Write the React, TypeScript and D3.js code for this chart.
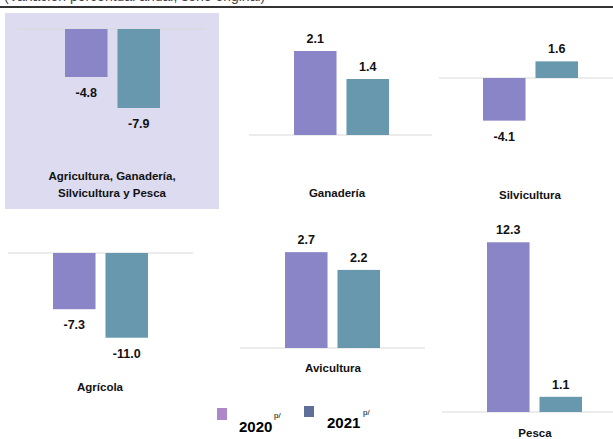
import React from "react";
import * as d3 from "d3";

const categories = [
  ["Agricultura, Ganadería,", "Silvicultura y Pesca"],
  ["Ganadería"],
  ["Silvicultura"],
  ["Agrícola"],
  ["Avicultura"],
  ["Pesca"],
];
const values2020 = [-4.8, 2.1, -4.1, -7.3, 2.7, 12.3];
const values2021 = [-7.9, 1.4, 1.6, -11.0, 2.2, 1.1];
const seriesNames = ["2020", "2021"];
const subtitle = "(Variación porcentual anual, serie original)";

// layout per panel (positions only)
const panelLayout = [
  { lineX0: 18, lineX1: 205, baseY: 29, unit: 10, barX: 65, titleX: 112, titleY: 197 },
  { lineX0: 249, lineX1: 432, baseY: 135, unit: 40, barX: 294, titleX: 337, titleY: 197 },
  { lineX0: 439, lineX1: 613, baseY: 78, unit: 10.4, barX: 483, titleX: 530, titleY: 199 },
  { lineX0: 8, lineX1: 193, baseY: 253, unit: 7.7, barX: 53, titleX: 100, titleY: 391 },
  { lineX0: 240, lineX1: 425, baseY: 348, unit: 35.5, barX: 285, titleX: 333, titleY: 372 },
  { lineX0: 442, lineX1: 613, baseY: 412, unit: 13.8, barX: 487, titleX: 535, titleY: 437 },
];

const barColors = ["#8985c6", "#6898ae"];
const legendColors = ["#ae87c8", "#5e7099"];
const font = "'Liberation Sans', Arial, sans-serif";

export default function App() {
  return (
    <svg
      width={613}
      height={439}
      style={{ position: "absolute", left: 0, top: 0, background: "#fff" }}
      fontFamily={font}
    >
      <text x={4} y={0.5} fontSize={14} fill="#444">{subtitle}</text>
      <line x1={0} x2={613} y1={7} y2={7} stroke="#333" strokeWidth={2} />
      <rect x={5} y={13} width={214} height={196} fill="#dddbef" />
      {categories.map((cat, i) => {
        const L = panelLayout[i];
        const y = d3.scaleLinear().domain([0, 1]).range([L.baseY, L.baseY - L.unit]);
        const x = d3
          .scaleBand<string>()
          .domain(seriesNames)
          .range([L.barX, L.barX + 95])
          .paddingInner(0.19)
          .paddingOuter(0);
        const vals = [values2020[i], values2021[i]];
        return (
          <g key={i}>
            <line x1={L.lineX0} x2={L.lineX1} y1={L.baseY} y2={L.baseY} stroke="#d9d9d9" strokeWidth={1.2} />
            {vals.map((v, j) => {
              const y0 = y(0);
              const y1 = y(v);
              const top = Math.min(y0, y1);
              const h = Math.abs(y1 - y0);
              const cx = (x(seriesNames[j]) as number) + x.bandwidth() / 2;
              const ly = v >= 0 ? y1 - 8 : y1 + 20;
              return (
                <g key={j}>
                  <rect x={x(seriesNames[j])} y={top} width={x.bandwidth()} height={h} fill={barColors[j]} />
                  <text x={cx} y={ly} textAnchor="middle" fontSize={12.5} fontWeight="bold" fill="#111">
                    {v.toFixed(1)}
                  </text>
                </g>
              );
            })}
            {cat.map((t, k) => (
              <text
                key={k}
                x={L.titleX}
                y={L.titleY + k * 17 - (cat.length - 1) * 17}
                textAnchor="middle"
                fontSize={11.5}
                fontWeight="bold"
                fill="#111"
              >
                {t}
              </text>
            ))}
          </g>
        );
      })}
      {/* legend */}
      <rect x={217} y={408} width={10} height={12} fill={legendColors[0]} />
      <text x={239} y={432} fontSize={15} fontWeight="bold" fill="#000">{seriesNames[0]}</text>
      <text x={274} y={418} fontSize={8} fill="#000">p/</text>
      <rect x={304} y={406} width={10} height={11} fill={legendColors[1]} />
      <text x={327} y={428} fontSize={15} fontWeight="bold" fill="#000">{seriesNames[1]}</text>
      <text x={363} y={415} fontSize={8} fill="#000">p/</text>
    </svg>
  );
}
